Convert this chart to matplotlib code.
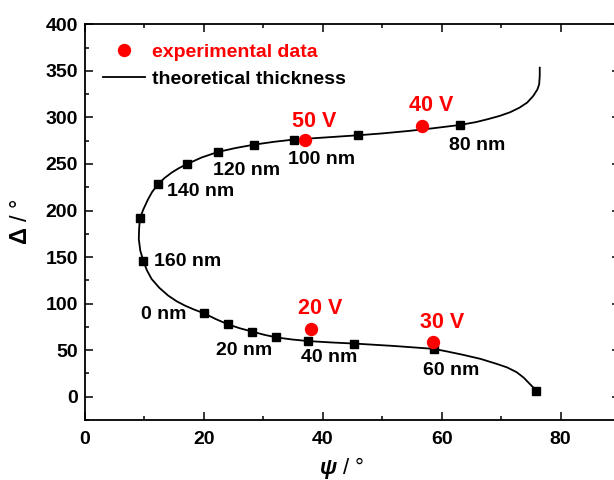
import matplotlib
matplotlib.use("Agg")
import matplotlib.pyplot as plt
from matplotlib.lines import Line2D

plt.rcParams["font.family"] = ["Liberation Sans", "DejaVu Sans"]
plt.rcParams["font.weight"] = "bold"
plt.rcParams["mathtext.fontset"] = "custom"
plt.rcParams["mathtext.rm"] = "Liberation Sans:bold"
plt.rcParams["mathtext.it"] = "Liberation Sans:italic:bold"
plt.rcParams["mathtext.bf"] = "Liberation Sans:bold"

# theoretical curve (top end -> bottom end)
curve_psi = [76.5, 76.5, 76.4, 76.1, 75.4, 74.4, 73.1, 71.5, 69.7, 67.7, 65.8, 63.1,
             58.5, 54.5, 50.0, 45.9, 40.5, 35.1, 31.8, 28.5, 25.4, 22.4, 19.6, 17.1,
             15.8, 14.6, 13.4, 12.3, 11.3, 10.6, 9.8, 9.24, 9.1, 9.05, 9.3, 9.8,
             10.4, 11.2, 12.5, 14.0, 15.4, 16.8, 18.4, 20.0, 22.0, 24.0, 26.0, 28.1,
             30.1, 32.2, 34.8, 37.5, 41.4, 45.3, 52.0, 58.66, 61.0, 63.6, 66.5, 69.2,
             71.0, 72.6, 73.8, 74.8, 75.4, 75.9]
curve_delta = [353.4, 345.0, 335.5, 330.0, 323.0, 316.0, 310.5, 305.5, 301.5, 298.0, 295.0, 291.9,
               288.3, 285.5, 282.8, 280.8, 278.5, 276.2, 273.8, 270.8, 267.2, 263.0, 256.9, 249.7,
               245.5, 240.8, 235.0, 228.3, 220.0, 212.0, 201.0, 191.5, 180.0, 169.3, 157.0, 146.0,
               136.0, 126.5, 117.0, 108.6, 102.6, 97.9, 93.5, 89.7, 83.4, 77.9, 73.6, 70.0,
               66.6, 63.7, 61.5, 59.8, 58.3, 57.1, 54.5, 51.4, 48.5, 45.0, 40.7, 35.4,
               31.5, 26.4, 20.5, 13.9, 10.0, 6.1]

# thickness markers, every 10 nm (0 ... 160 nm)
thick_psi = [20.0, 24.0, 28.1, 32.2, 37.5, 45.3, 58.66, 75.9, 63.1,
             45.9, 35.1, 28.5, 22.4, 17.1, 12.3, 9.24, 9.8]
thick_delta = [89.7, 77.9, 70.0, 63.7, 59.8, 57.1, 51.4, 6.1, 291.9,
               280.8, 276.2, 270.8, 263.0, 249.7, 228.3, 191.5, 146.0]

# experimental points
exp_psi = [38.1, 58.5, 56.7, 37.0]
exp_delta = [72.9, 59.3, 291.2, 275.8]
exp_labels = ["20 V", "30 V", "40 V", "50 V"]
exp_label_pos = [(39.6, 94.5), (60.1, 79.5), (58.3, 312.5), (38.5, 295.5)]

nm_labels = ["0 nm", "20 nm", "40 nm", "60 nm", "80 nm",
             "100 nm", "120 nm", "140 nm", "160 nm"]
nm_label_pos = [(13.2, 88.2), (26.7, 49.6), (41.0, 42.1), (61.6, 28.7), (66.0, 270.0),
                (39.8, 254.5), (27.2, 243.5), (19.5, 220.0), (17.3, 145.0)]

fig = plt.figure(figsize=(6.14, 4.8), dpi=100)
ax = fig.add_axes([85 / 614, 60 / 480, 535 / 614, 395.7 / 480])

ax.plot(curve_psi, curve_delta, color="black", lw=1.3, zorder=2)
ax.plot(thick_psi, thick_delta, ls="none", marker="s", ms=6.2,
        color="black", zorder=3)
ax.plot(exp_psi, exp_delta, ls="none", marker="o", ms=9.6,
        color="#ff0000", mec="none", zorder=4)

for lab, (x, y) in zip(exp_labels, exp_label_pos):
    ax.text(x, y, lab, color="#ff0000", fontsize=15.5, fontweight="bold",
            ha="center", va="center")
for lab, (x, y) in zip(nm_labels, nm_label_pos):
    ax.text(x, y, lab, color="black", fontsize=14, fontweight="bold",
            ha="center", va="center")

ax.set_xlim(0, 90)
ax.set_ylim(-25, 400)
ax.set_xticks([0, 20, 40, 60, 80])
ax.set_xticks([10, 30, 50, 70, 90], minor=True)
ax.set_yticks(range(0, 401, 50))
ax.set_yticks(range(-25, 400, 50), minor=True)
ax.tick_params(which="both", direction="in", top=True, right=True,
               width=1.1, labelsize=14)
ax.tick_params(which="major", length=5.5)
ax.tick_params(which="minor", length=3)
ax.tick_params(axis="x", pad=8)
ax.tick_params(axis="y", pad=5)
for lbl in ax.get_xticklabels() + ax.get_yticklabels():
    lbl.set_fontweight("bold")
for sp in ax.spines.values():
    sp.set_linewidth(1.3)

ax.set_xlabel(r"$\mathit{ψ}$ / °", fontsize=16)
ax.set_ylabel(r"$\mathit{Δ}$ / °", fontsize=17)
ax.xaxis.set_label_coords((342 - 85) / 535, -0.088)
ax.yaxis.set_label_coords((32 - 85) / 535, 0.5)

handles = [
    Line2D([], [], ls="none", marker="o", ms=9.6, color="#ff0000", mec="none"),
    Line2D([], [], color="black", lw=1.3),
]
leg = ax.legend(handles, ["experimental data", "theoretical thickness"],
                loc="upper left", bbox_to_anchor=((103 - 85) / 535, 0.952),
                frameon=False, fontsize=14, handlelength=2.15,
                handletextpad=0.35, borderaxespad=0, borderpad=0,
                labelspacing=0.5)
leg.get_texts()[0].set_color("#ff0000")
for t in leg.get_texts():
    t.set_fontweight("bold")

fig.savefig("out.png", dpi=100)
